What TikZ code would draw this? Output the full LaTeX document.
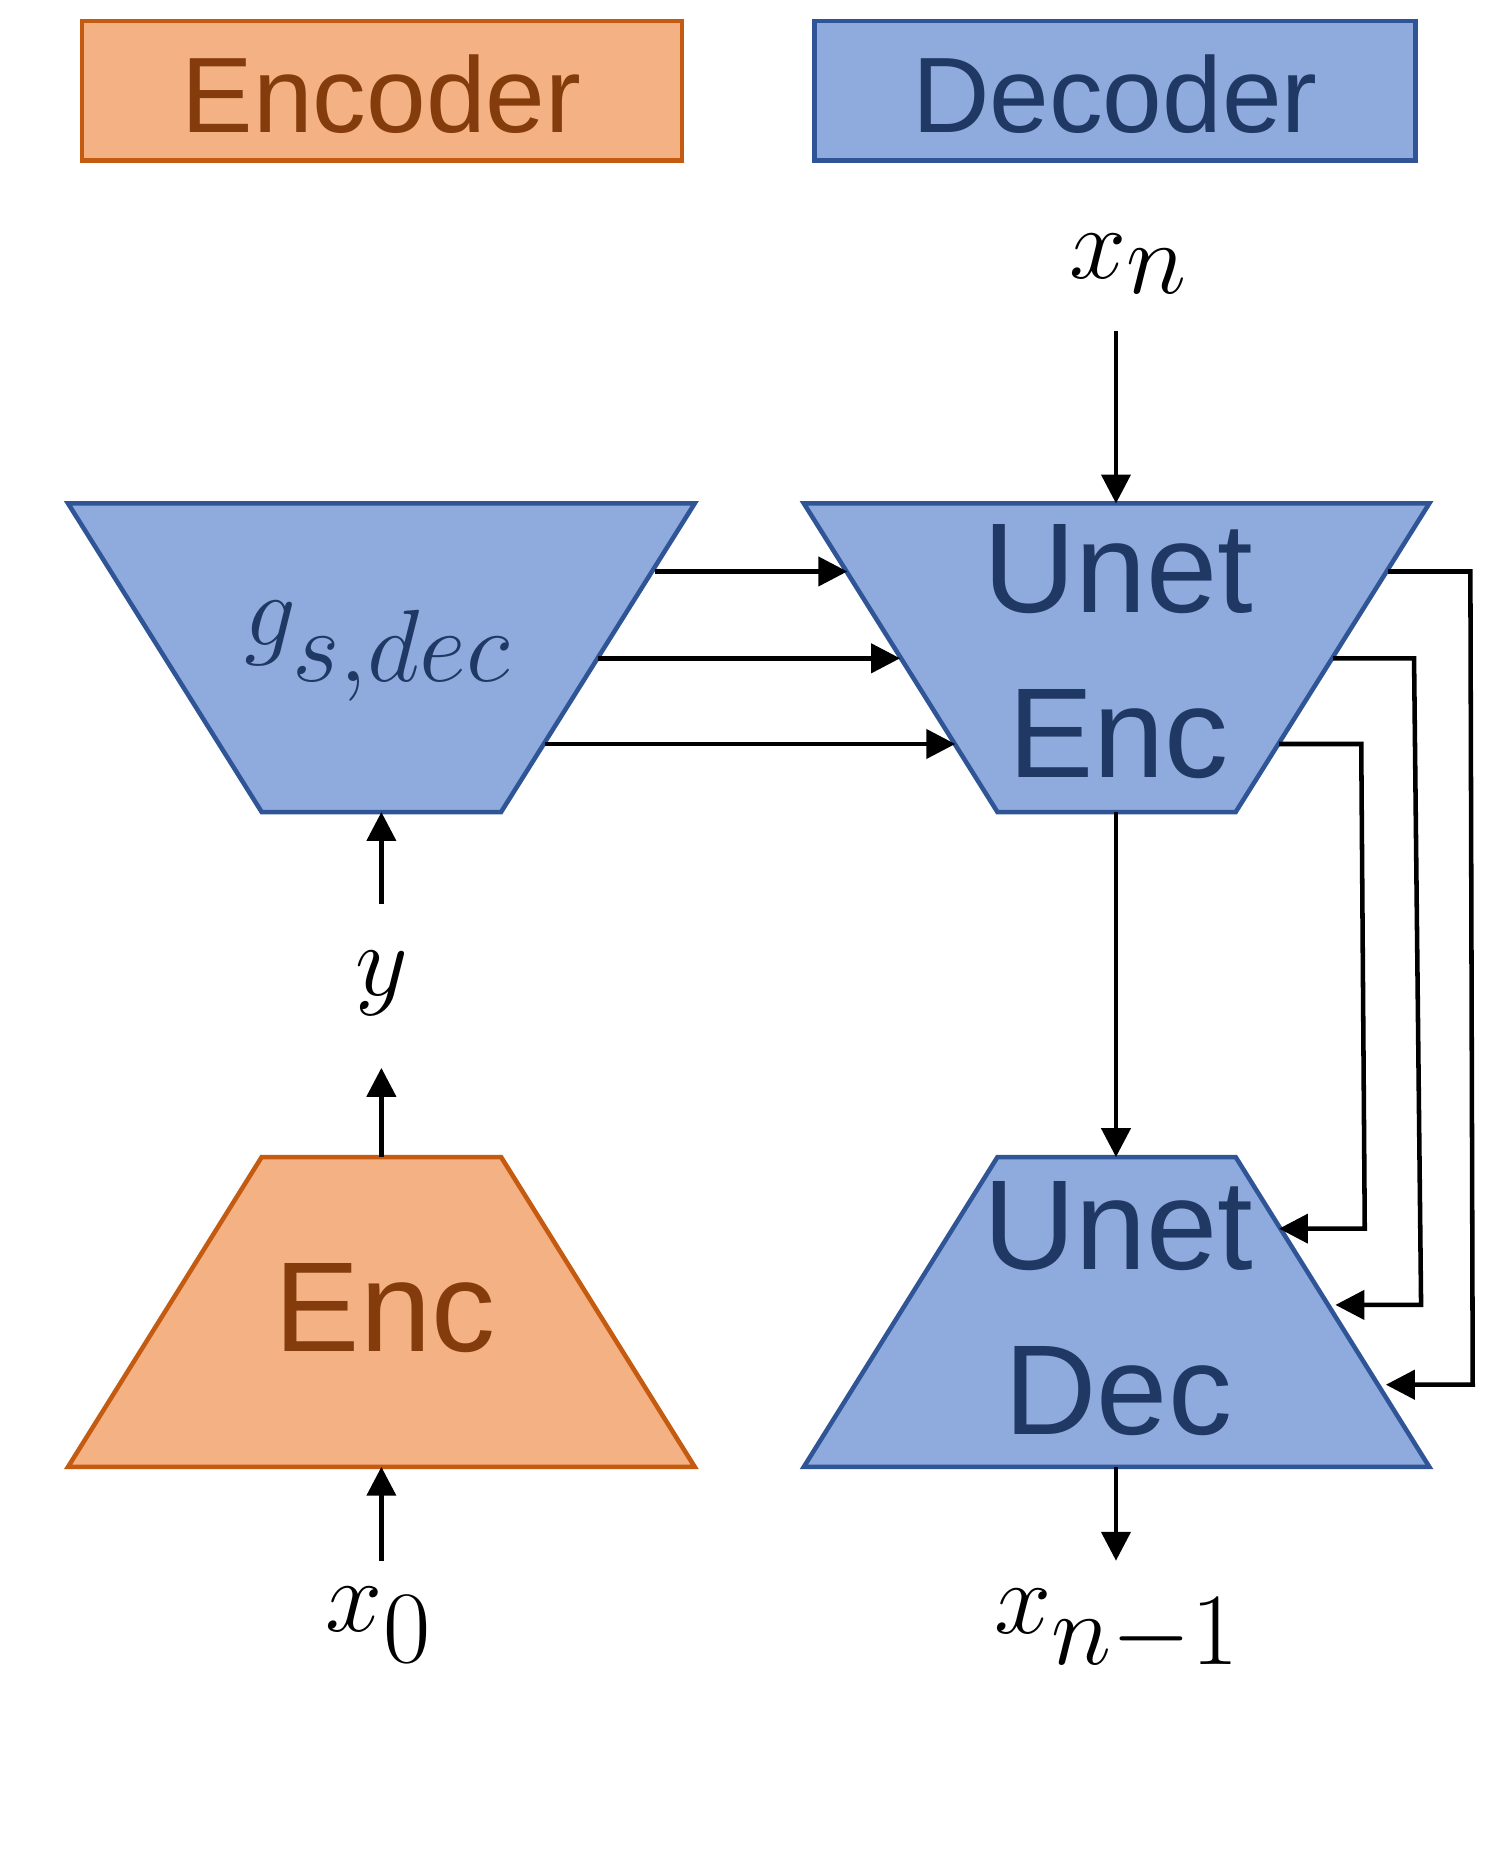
\documentclass[tikz,border=0pt]{standalone}
\usepackage{fontspec}
\setmainfont{Liberation Sans}
\usetikzlibrary{arrows.meta}
\definecolor{ofill}{HTML}{F4B183}
\definecolor{odraw}{HTML}{C55A11}
\definecolor{otext}{HTML}{843C0C}
\definecolor{bfill}{HTML}{8FAADC}
\definecolor{bdraw}{HTML}{2F5597}
\definecolor{btext}{HTML}{1F3864}
\tikzset{
  obox/.style={fill=ofill,draw=odraw,line width=1.1pt},
  bbox/.style={fill=bfill,draw=bdraw,line width=1.1pt},
  arr/.style={line width=1.1pt,-{Triangle[length=7pt,width=7pt]}},
  ln/.style={line width=1.1pt},
  lbl/.style={inner sep=0pt,font=\fontsize{24}{28}\selectfont},
  mlbl/.style={inner sep=0pt,font=\fontsize{34}{38}\selectfont},
}
\begin{document}
\begin{tikzpicture}[x=0.01cm,y=-0.01cm]
\useasboundingbox (0,0) rectangle (1280,1591);
% legend
\draw[obox] (70,18) rectangle (581,137);
\node[lbl,text=otext] (enclab) at (325,80) {\fontsize{26}{30}\selectfont Encoder};
\draw[bbox] (694,18) rectangle (1206,137);
\node[lbl,text=btext] (declab) at (950,80) {\fontsize{26}{30}\selectfont Decoder};
% shapes
\draw[bbox] (58,429) -- (592,429) -- (427,692) -- (223,692) -- cycle;
\node[mlbl,text=btext] (g) at (322,555) {$g_{s,dec}$};
\draw[bbox] (685,429) -- (1218,429) -- (1053,692) -- (850,692) -- cycle;
\node[lbl,text=btext,align=center,font=\fontsize{31}{40}\selectfont] (ue) at (953,555) {Unet\\Enc};
\draw[obox] (223,986) -- (427,986) -- (592,1250) -- (58,1250) -- cycle;
\node[lbl,text=otext,font=\fontsize{31}{36}\selectfont] (enc) at (328,1115) {Enc};
\draw[bbox] (850,986) -- (1053,986) -- (1218,1250) -- (685,1250) -- cycle;
\node[lbl,text=btext,align=center,font=\fontsize{31}{40}\selectfont] (ud) at (953,1115) {Unet\\Dec};
% labels
\node[mlbl] (xn) at (962,225) {$x_n$};
\node[mlbl] (y) at (325,838) {$y$};
\node[mlbl] (x0) at (323,1385) {$x_0$};
\node[mlbl] (xn1) at (952,1390) {$x_{n-1}$};
% coordinates
\coordinate (xnb) at (951,282); \coordinate (uet) at (951,429);
\coordinate (ueb) at (951,692); \coordinate (udt) at (951,986);
\coordinate (udb) at (951,1250); \coordinate (xn1t) at (951,1330);
\coordinate (x0t) at (325,1330); \coordinate (encb) at (325,1250);
\coordinate (enct) at (325,986); \coordinate (yb) at (325,910);
\coordinate (yt) at (325,770); \coordinate (gb) at (325,692);
\draw[arr] (xnb) -- (uet);
\draw[arr] (ueb) -- (udt);
\draw[arr] (udb) -- (xn1t);
\draw[arr] (x0t) -- (encb);
\draw[arr] (enct) -- (yb);
\draw[arr] (yt) -- (gb);
% skip g -> unet enc
\coordinate (g1) at (558,487); \coordinate (u1) at (722,487);
\coordinate (g2) at (510,561); \coordinate (u2) at (767,561);
\coordinate (g3) at (464,634); \coordinate (u3) at (814,634);
\draw[arr] (g1) -- (u1);
\draw[arr] (g2) -- (u2);
\draw[arr] (g3) -- (u3);
% skip unet enc -> unet dec
\coordinate (e1) at (1183,487); \coordinate (d1) at (1181,1180);
\coordinate (e2) at (1136,561); \coordinate (d2) at (1138,1112);
\coordinate (e3) at (1090,634); \coordinate (d3) at (1090,1047);
\draw[arr] (e1) -- (1253,487) -- (1255,1180) -- (d1);
\draw[arr] (e2) -- (1205,561) -- (1211,1112) -- (d2);
\draw[arr] (e3) -- (1160,634) -- (1163,1047) -- (d3);
\end{tikzpicture}
\end{document}
